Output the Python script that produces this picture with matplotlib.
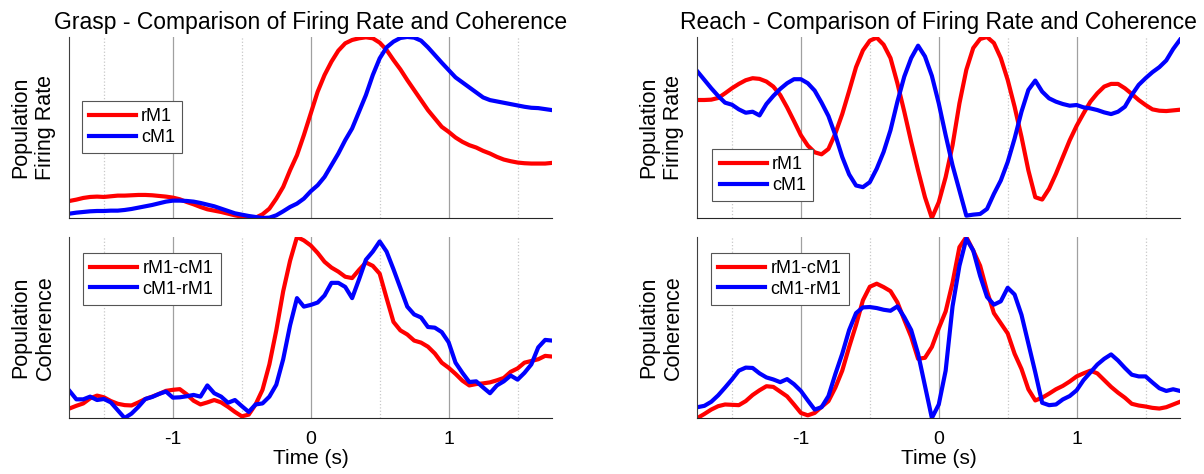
import matplotlib.pyplot as plt
import numpy as np

plt.rcParams['font.family'] = ['Liberation Sans', 'DejaVu Sans']
plt.rcParams['axes.unicode_minus'] = False

# time axis, 50 ms steps
time_s = np.linspace(-1.75, 1.75, 71)

# values (arbitrary units, axes are tight)
grasp_rate_rm1 = [52, 56, 61, 64, 65, 64, 66, 68, 68, 69, 70, 70, 69, 67, 65, 62,
                  57, 49, 42, 34, 27, 23, 19, 14, 9, 5, 1, 2, 12, 29, 59, 94, 144, 189, 249, 314,
                  379, 429, 469, 502, 524, 534, 539, 542, 539, 526, 504, 474, 446, 414, 384, 354, 324, 299, 274, 259,
                  242, 229, 219, 212, 202, 194, 184, 176, 171, 167, 165, 164, 164, 164, 166]
grasp_rate_cm1 = [14, 17, 19, 21, 22, 22, 23, 23, 25, 28, 32, 36, 40, 45, 50, 53,
                  53, 52, 50, 46, 41, 36, 29, 22, 15, 11, 7, 4, 1, 2, 9, 21, 34, 44, 59, 81,
                  99, 124, 159, 194, 234, 269, 319, 369, 429, 479, 512, 529, 540, 543, 541, 532, 512, 489, 466, 444,
                  422, 407, 392, 377, 362, 354, 350, 346, 342, 338, 334, 331, 330, 327, 324]
grasp_coh_r_c = [35, 43, 50, 65, 73, 68, 57, 49, 45, 44, 53, 63, 70, 78, 87, 90,
                 92, 77, 58, 47, 53, 60, 53, 40, 25, 12, 17, 47, 90, 165, 265, 380, 470, 540, 530, 515,
                 493, 467, 450, 438, 423, 419, 443, 465, 455, 432, 360, 290, 265, 253, 235, 229, 217, 197, 170, 155,
                 137, 117, 103, 107, 109, 112, 118, 125, 143, 153, 170, 175, 180, 190, 188]
grasp_coh_c_r = [87, 62, 62, 70, 60, 63, 53, 30, 7, 20, 40, 63, 69, 78, 85, 67,
                 68, 71, 75, 70, 103, 80, 70, 52, 60, 42, 25, 47, 50, 70, 105, 180, 280, 360, 335, 340,
                 347, 368, 405, 405, 393, 360, 415, 473, 497, 527, 497, 445, 390, 335, 312, 303, 275, 273, 260, 230,
                 170, 140, 113, 115, 97, 80, 103, 115, 132, 120, 140, 165, 215, 237, 235]

reach_rate_rm1 = [354, 354, 355, 360, 374, 389, 402, 413, 419, 417, 409, 394, 369, 332, 291, 249,
                  218, 198, 192, 208, 254, 312, 381, 452, 502, 531, 540, 519, 479, 404, 319, 229, 144, 64, 2, 49,
                  124, 219, 344, 444, 509, 536, 542, 524, 479, 414, 334, 244, 144, 64, 57, 89, 134, 184, 234, 277,
                  314, 349, 374, 394, 402, 402, 389, 372, 354, 339, 326, 322, 321, 323, 325]
reach_rate_cm1 = [439, 414, 389, 366, 346, 340, 326, 316, 319, 308, 342, 366, 387, 404, 416, 416,
                  404, 382, 346, 306, 249, 184, 132, 99, 94, 109, 149, 199, 264, 349, 424, 479, 516, 484, 426, 344,
                  249, 159, 84, 9, 12, 14, 29, 74, 114, 169, 239, 319, 384, 412, 379, 359, 349, 342, 337, 339,
                  332, 329, 324, 317, 312, 319, 334, 369, 399, 419, 437, 452, 472, 506, 534]
reach_coh_r_c = [5, 17, 30, 40, 45, 44, 43, 55, 73, 87, 99, 97, 83, 69, 45, 20,
                 13, 20, 38, 55, 95, 145, 215, 280, 353, 393, 402, 392, 380, 347, 295, 245, 180, 183, 215, 270,
                 320, 405, 510, 540, 500, 455, 380, 315, 285, 255, 195, 150, 90, 57, 65, 77, 90, 100, 113, 128,
                 137, 145, 137, 117, 97, 80, 65, 47, 42, 39, 35, 33, 37, 45, 53]
reach_coh_c_r = [37, 41, 53, 72, 95, 119, 145, 154, 153, 137, 125, 119, 111, 120, 105, 85,
                 57, 30, 37, 70, 135, 195, 265, 315, 332, 333, 330, 325, 322, 335, 303, 265, 195, 100, 5, 45,
                 145, 335, 455, 535, 500, 425, 363, 340, 350, 390, 370, 310, 225, 140, 50, 43, 45, 60, 70, 87,
                 117, 140, 163, 180, 193, 175, 153, 133, 128, 128, 110, 93, 85, 90, 85]

rate_labels = ['rM1', 'cM1']
coh_labels = ['rM1-cM1', 'cM1-rM1']
titles = ['Grasp - Comparison of Firing Rate and Coherence',
          'Reach - Comparison of Firing Rate and Coherence']

RED = '#ff0000'
BLUE = '#0000ff'


def draw_panel(ax, red, blue, labels, ylabel, legend_at, bottom_row):
    """Draw one pair of curves in MATLAB-like styling."""
    ax.plot(time_s, red, color=RED, lw=3.0, label=labels[0])
    ax.plot(time_s, blue, color=BLUE, lw=3.0, label=labels[1])

    lo = min(min(red), min(blue))
    hi = max(max(red), max(blue))
    ax.set_ylim(lo, hi)
    ax.set_xlim(-1.75, 1.75)

    ax.set_xticks([-1, 0, 1])
    ax.set_xticks([-1.5, -0.5, 0.5, 1.5], minor=True)
    ax.grid(axis='x', which='major', color='#a0a0a0', lw=0.9)
    ax.grid(axis='x', which='minor', color='#c8c8c8', lw=0.9, linestyle=':')
    ax.set_axisbelow(True)
    ax.set_yticks([])
    ax.tick_params(which='both', length=0, labelsize=14, pad=9)
    if not bottom_row:
        ax.tick_params(labelbottom=False)
    else:
        # the reference crops this label at the figure edge; keep it just inside
        ax.set_xlabel('Time (s)', fontsize=15, labelpad=1)

    for side in ['top', 'right']:
        ax.spines[side].set_visible(False)
    ax.spines['left'].set_color('#404040')
    ax.spines['bottom'].set_color('#262626')

    ax.set_ylabel(ylabel, fontsize=15.5, labelpad=10, linespacing=1.2)

    leg = ax.legend(loc='upper left', bbox_to_anchor=legend_at, borderaxespad=0,
                    fontsize=13, handlelength=2.6, handletextpad=0.3,
                    borderpad=0.4, labelspacing=0.2, fancybox=False,
                    framealpha=1, edgecolor='#555555')
    leg.get_frame().set_linewidth(0.8)


fig = plt.figure(figsize=(12.04, 4.74), dpi=100)

col_x = [0.0577, 0.5793]
width = 0.4008
top_y, bot_y, height = 0.5401, 0.1181, 0.3819

panels = [
    (grasp_rate_rm1, grasp_rate_cm1, grasp_coh_r_c, grasp_coh_c_r, (0.025, 0.646)),
    (reach_rate_rm1, reach_rate_cm1, reach_coh_r_c, reach_coh_c_r, (0.031, 0.381)),
]

for i, (r_fr, c_fr, r_coh, c_coh, leg_top) in enumerate(panels):
    ax_top = fig.add_axes([col_x[i], top_y, width, height])
    ax_bot = fig.add_axes([col_x[i], bot_y, width, height])

    draw_panel(ax_top, r_fr, c_fr, rate_labels, 'Population\nFiring Rate', leg_top, False)
    draw_panel(ax_bot, r_coh, c_coh, coh_labels, 'Population\nCoherence', (0.028, 0.913), True)

    ax_top.set_title(titles[i], fontsize=16.5, pad=6)

fig.savefig('out.png', dpi=100)
